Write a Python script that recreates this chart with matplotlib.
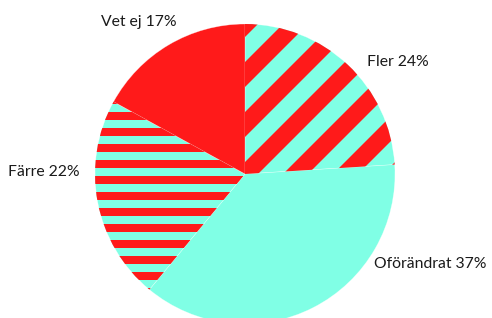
import matplotlib
matplotlib.use("Agg")
import matplotlib.pyplot as plt
from matplotlib.patches import Polygon

categories = ["Fler", "Oförändrat", "Färre", "Vet ej"]
values = [24, 37, 22, 17]

RED = "#ff1a1a"
AQUA = "#80ffe5"

W, H = 492, 318
fig = plt.figure(figsize=(W / 100, H / 100), dpi=100)
ax = fig.add_axes([0, 0, 1, 1])

cx, cy, r = 245, 144, 150
wedges, _ = ax.pie(values, center=(cx, cy), radius=r, startangle=90,
                   counterclock=False,
                   colors=[AQUA, AQUA, AQUA, RED],
                   wedgeprops=dict(linewidth=0.4, edgecolor=(1, 1, 1, 0.5)), frame=True)
ax.set_xlim(0, W)
ax.set_ylim(0, H)
ax.set_aspect("auto")
ax.axis("off")

# diagonal stripes for "Fler"
period, width = 50, 25
for k in range(-20, 20):
    c = k * period - 11
    y0, y1 = -100, 450
    p = Polygon([(c + y0, y0), (c + width + y0, y0), (c + width + y1, y1), (c + y1, y1)],
                closed=True, facecolor=RED, edgecolor="none")
    ax.add_patch(p)
    p.set_clip_path(wedges[0])

# horizontal stripes for "Färre"
hp, hw = 16, 8.3
for k in range(-2, 25):
    yb = k * hp + 5.7
    p = Polygon([(-10, yb), (W + 10, yb), (W + 10, yb + hw), (-10, yb + hw)],
                closed=True, facecolor=RED, edgecolor="none")
    ax.add_patch(p)
    p.set_clip_path(wedges[2])

labels = [f"{c} {v}%" for c, v in zip(categories, values)]
pos = [(367, 256), (374, 54), (8, 146), (101, 296)]
for lab, (x, y) in zip(labels, pos):
    ax.text(x, y, lab, ha="left", va="center", fontsize=11.3, family="Lato", color="#1a1a1a")

fig.savefig("out.png", dpi=100)
